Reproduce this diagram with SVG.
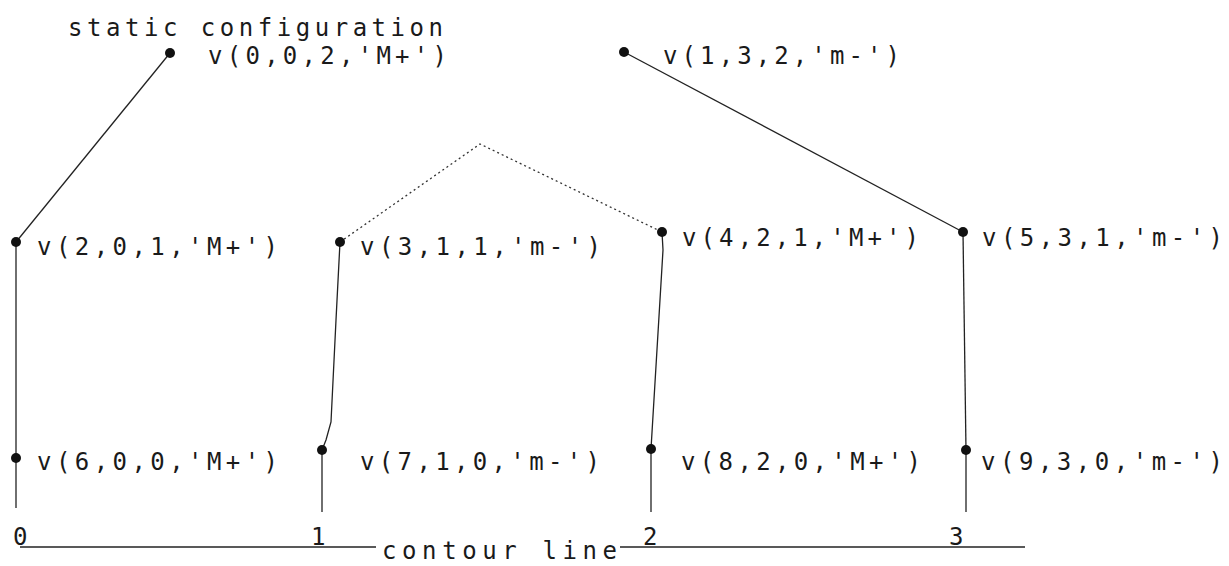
<svg xmlns="http://www.w3.org/2000/svg" width="1229" height="566" viewBox="0 0 1229 566">
<style>
text{font-family:"DejaVu Sans Mono","Liberation Mono",monospace;font-size:24px;fill:#1a1a1a}
.e{fill:none;stroke:#222;stroke-width:1.3}
.d{fill:none;stroke:#333;stroke-width:1.3;stroke-dasharray:2 3}
.n{fill:#111}
</style>
<rect width="1229" height="566" fill="#fff"/>
<g id="connectors">
<line class="e" x1="170" y1="53" x2="16" y2="242"/>
<line class="e" x1="16" y1="242" x2="16" y2="458"/>
<line class="e" x1="16" y1="458" x2="16" y2="508"/>
<polyline class="e" points="340,242 336,320 331,422 326,440 322,450"/>
<line class="e" x1="322" y1="450" x2="322" y2="512"/>
<polyline class="e" points="662,232 663,250 651,449"/>
<line class="e" x1="651" y1="449" x2="651" y2="512"/>
<line class="e" x1="963" y1="232" x2="966" y2="450"/>
<line class="e" x1="966" y1="450" x2="966" y2="512"/>
<line class="e" x1="624" y1="52" x2="963" y2="232"/>
<polyline class="d" points="340,242 480,144 662,232"/>
</g>
<g id="title"><text x="68" y="36" textLength="375" lengthAdjust="spacing">static configuration</text></g>
<g id="v0"><circle class="n" cx="170" cy="53" r="5"/><text x="208" y="64" textLength="239" lengthAdjust="spacing">v(0,0,2,'M+')</text></g>
<g id="v1"><circle class="n" cx="624" cy="52" r="5"/><text x="663" y="64" textLength="237" lengthAdjust="spacing">v(1,3,2,'m-')</text></g>
<g id="v2"><circle class="n" cx="16" cy="242" r="5"/><text x="37" y="255" textLength="241" lengthAdjust="spacing">v(2,0,1,'M+')</text></g>
<g id="v3"><circle class="n" cx="340" cy="242" r="5"/><text x="360" y="255" textLength="241" lengthAdjust="spacing">v(3,1,1,'m-')</text></g>
<g id="v4"><circle class="n" cx="662" cy="232" r="5"/><text x="682" y="246" textLength="237" lengthAdjust="spacing">v(4,2,1,'M+')</text></g>
<g id="v5"><circle class="n" cx="963" cy="232" r="5"/><text x="982" y="246" textLength="241" lengthAdjust="spacing">v(5,3,1,'m-')</text></g>
<g id="v6"><circle class="n" cx="16" cy="458" r="5"/><text x="37" y="470" textLength="241" lengthAdjust="spacing">v(6,0,0,'M+')</text></g>
<g id="v7"><circle class="n" cx="322" cy="450" r="5"/><text x="360" y="470" textLength="240" lengthAdjust="spacing">v(7,1,0,'m-')</text></g>
<g id="v8"><circle class="n" cx="651" cy="449" r="5"/><text x="681" y="470" textLength="240" lengthAdjust="spacing">v(8,2,0,'M+')</text></g>
<g id="v9"><circle class="n" cx="966" cy="450" r="5"/><text x="981" y="470" textLength="242" lengthAdjust="spacing">v(9,3,0,'m-')</text></g>
<g id="contour">
<line class="e" x1="20" y1="547" x2="376" y2="547"/>
<line class="e" x1="620" y1="547" x2="1025" y2="547"/>
<text x="382" y="559" textLength="235" lengthAdjust="spacing">contour line</text>
<text x="13" y="545">0</text>
<text x="311" y="545">1</text>
<text x="643" y="545">2</text>
<text x="949" y="545">3</text>
</g>
</svg>
